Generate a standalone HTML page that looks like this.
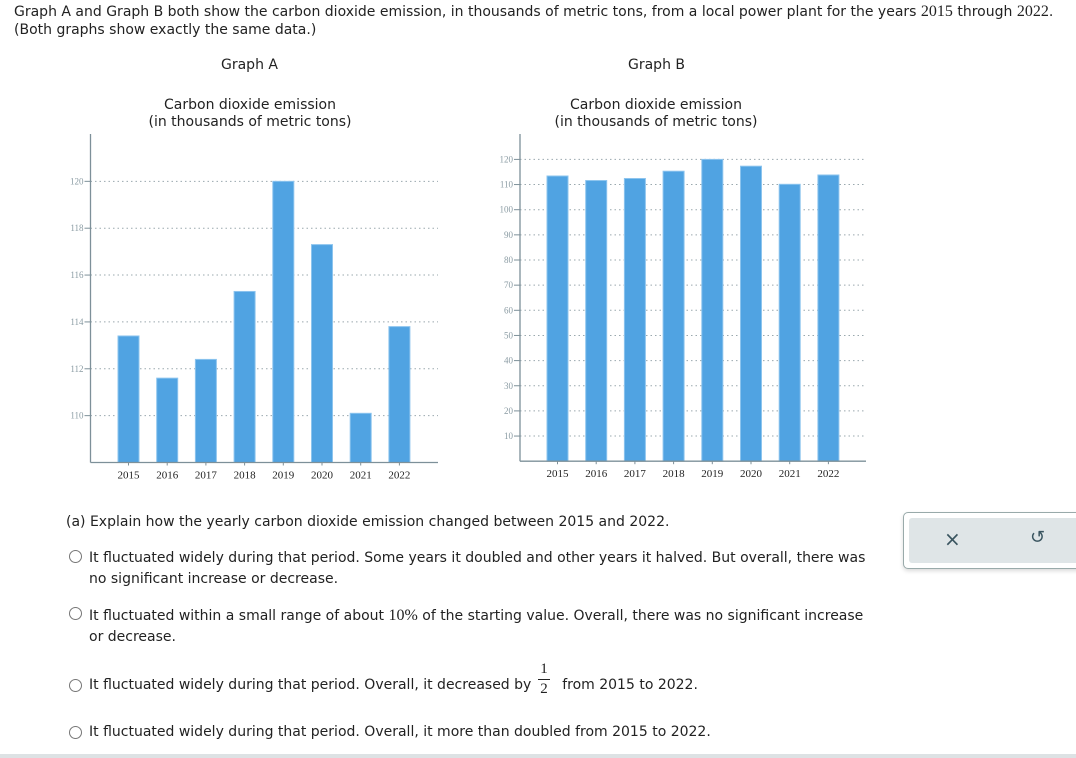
<!DOCTYPE html>
<html><head><meta charset="utf-8">
<style>
body{margin:0;width:1076px;height:758px;background:#fff;position:relative;overflow:hidden;font-family:"DejaVu Sans","Liberation Sans",sans-serif;font-size:14px;color:#222;}
.t{position:absolute;white-space:nowrap;}
.serif{font-family:"Liberation Serif",serif;}
.radio{position:absolute;width:11px;height:11px;border:1px solid #777;border-radius:50%;background:#fff;}
.frac{display:inline-block;vertical-align:middle;text-align:center;font-family:"Liberation Serif",serif;font-size:15px;line-height:15px;margin:0 4px 0 2px;}
svg text{font-family:"Liberation Serif",serif;}
</style></head><body>
<div class="t" style="left:14px;top:3px;">Graph A and Graph B both show the carbon dioxide emission, in thousands of metric tons, from a local power plant for the years <span class="serif" style="font-size:16px">2015</span> through <span class="serif" style="font-size:16px">2022</span>.</div>
<div class="t" style="left:14px;top:22px;">(Both graphs show exactly the same data.)</div>
<div class="t" style="left:221px;top:57px;">Graph A</div>
<div class="t" style="left:628px;top:57px;">Graph B</div>
<div class="t" style="left:135px;top:97px;text-align:center;width:230px;line-height:17px;">Carbon dioxide emission<br>(in thousands of metric tons)</div>
<div class="t" style="left:541px;top:97px;text-align:center;width:230px;line-height:17px;">Carbon dioxide emission<br>(in thousands of metric tons)</div>
<svg id="chart" width="1076" height="500" style="position:absolute;left:0;top:0"></svg>

<div class="t" style="left:66px;top:514px;">(a) Explain how the yearly carbon dioxide emission changed between 2015 and 2022.</div>

<div class="radio" style="left:69px;top:550px;"></div>
<div class="t" style="left:89px;top:548px;line-height:21px;">It fluctuated widely during that period. Some years it doubled and other years it halved. But overall, there was<br>no significant increase or decrease.</div>
<div class="radio" style="left:69px;top:607px;"></div>
<div class="t" style="left:89px;top:605px;line-height:21px;">It fluctuated within a small range of about <span class="serif" style="font-size:16px">10%</span> of the starting value. Overall, there was no significant increase<br>or decrease.</div>
<div class="radio" style="left:69px;top:679px;"></div>
<div class="t" style="left:89px;top:677px;">It fluctuated widely during that period. Overall, it decreased by <span style="display:inline-block;width:22px;"></span> from 2015 to 2022.</div>
<div class="t" style="left:538px;top:662px;text-align:center;width:12px;font-family:'Liberation Serif',serif;font-size:15px;line-height:15px;">1<div style="border-top:1px solid #222;margin:2px 0;"></div>2</div>
<div class="radio" style="left:69px;top:726px;"></div>
<div class="t" style="left:89px;top:724px;">It fluctuated widely during that period. Overall, it more than doubled from 2015 to 2022.</div>

<div style="position:absolute;left:903px;top:512px;width:180px;height:55px;border:1px solid #9aa;border-radius:5px;background:#fff;box-shadow:0 2px 4px rgba(0,0,0,0.15);">
<div style="position:absolute;left:5px;top:5px;right:0;bottom:5px;background:#dfe5e7;border-radius:3px;"></div>
<div class="t" style="left:40px;top:14px;font-size:20px;color:#3a5560;">×</div>
<div class="t" style="left:126px;top:14px;font-size:18px;color:#3a5560;">↺</div>
</div>
<div style="position:absolute;left:0;top:754px;width:1076px;height:4px;background:#dde2e4;"></div>

<script>
const years = ["2015","2016","2017","2018","2019","2020","2021","2022"];
const emissions = [113.4, 111.6, 112.4, 115.3, 120.0, 117.3, 110.1, 113.8];
const ticksA = [110, 112, 114, 116, 118, 120];
const ticksB = [10, 20, 30, 40, 50, 60, 70, 80, 90, 100, 110, 120];
const NS = "http://www.w3.org/2000/svg";
const svg = document.getElementById('chart');
function mk(tag, attrs, parent){const e=document.createElementNS(NS,tag);for(const k in attrs)e.setAttribute(k,attrs[k]);(parent||svg).appendChild(e);return e;}
function drawChart(cfg, ticks, key){
  const g = mk('g',{});
  
  
  const y = v => cfg.base - (v - cfg.min) * cfg.ppu;
  const x = i => cfg.firstBar + i * cfg.step;
  ticks.forEach(t=>{
    const yy = y(t);
    const gl = mk('line',{x1:cfg.x0,x2:cfg.xEnd,y1:yy,y2:yy,stroke:'#9aa8ae','stroke-dasharray':'1.5,3','stroke-width':1},g);
    
    
    mk('line',{x1:cfg.x0-6,x2:cfg.x0,y1:yy,y2:yy,stroke:'#7d9099','stroke-width':1},g);
    const tl = mk('text',{x:cfg.x0-7,y:yy+3,'text-anchor':'end','font-size':9,fill:'#8a9ba3'},g);
    tl.textContent = t;
    
    
  });
  emissions.forEach((v,i)=>{
    const top = y(v);
    const b = mk('rect',{x:x(i),y:top,width:cfg.bw,height:cfg.base-top,fill:'#50a3e2',stroke:'#8cc4ee','stroke-width':1},g);
    
    
    mk('line',{x1:x(i)+cfg.bw/2,x2:x(i)+cfg.bw/2,y1:cfg.base,y2:cfg.base+3,stroke:'#7d9099'},g);
    const xl = mk('text',{x:x(i)+cfg.bw/2,y:cfg.base+16,'text-anchor':'middle','font-size':11,fill:'#222'},g);
    xl.textContent = years[i];
    
    
  });
  mk('line',{x1:cfg.x0,x2:cfg.x0,y1:cfg.top,y2:cfg.base,stroke:'#7d9099','stroke-width':1.3},g);
  mk('line',{x1:cfg.x0,x2:cfg.xEnd,y1:cfg.base,y2:cfg.base,stroke:'#7d9099','stroke-width':1.3},g);
}
drawChart({x0:90.5,xEnd:438,top:134,base:462.5,min:108,ppu:23.43,firstBar:118,step:38.7,bw:21}, ticksA, 'graph-a');
drawChart({x0:520,xEnd:866,top:134,base:461.2,min:0,ppu:2.515,firstBar:547,step:38.7,bw:21}, ticksB, 'graph-b');
</script>
</body></html>
